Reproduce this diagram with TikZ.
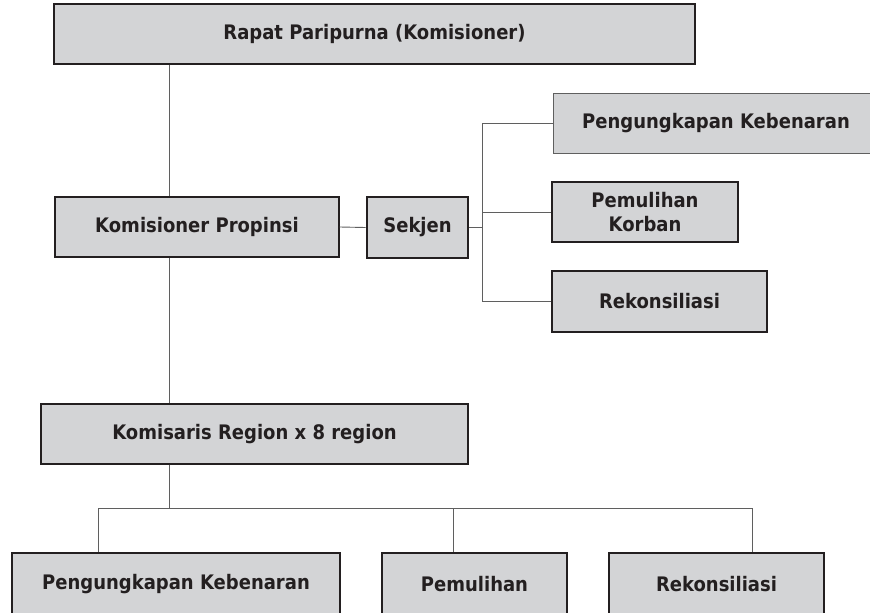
\documentclass[tikz,border=0pt]{standalone}
\usepackage{fontspec}
\setmainfont{DejaVu Sans}[FakeStretch=0.9]
\usepackage{xcolor}
\usepackage{tikz}
\usetikzlibrary{positioning, calc}
\definecolor{OrgFill}{RGB}{211,212,214}
\definecolor{OrgLine}{RGB}{35,31,32}
\definecolor{OrgGray}{RGB}{95,95,95}

\begin{document}
\begin{tikzpicture}[x=1pt, y=-1pt,
          unit/.style={rectangle, draw=OrgLine, fill=OrgFill, line width=1.3pt,
                       minimum height=60pt, inner sep=2pt, align=center,
                       font=\bfseries\fontsize{20}{24}\selectfont,
                       text=OrgLine},
          heavy/.style={unit, line width=2.6pt},
          light/.style={unit, draw=OrgGray, line width=1pt},
          link/.style={draw=OrgGray, line width=0.9pt}
        ]
        \path[fill=white, use as bounding box] (0,0) rectangle (870,613);

        % Top level
        \node[unit, line width=2pt, minimum width=641pt] (rapat) at (374.5,34)
              {Rapat Paripurna (Komisioner)};
        \node[unit, minimum width=284pt] (kprop) at (197,227)
              {Komisioner Propinsi};
        \node[heavy, minimum width=101pt, minimum height=61pt] (sekjen) at (417.5,227.5)
              {Sekjen};

        % Sekjen units
        \node[light, minimum width=326pt] (pkTop) at (716,123)
              {Pengungkapan Kebenaran};
        \node[unit, line width=1.8pt, minimum width=186pt] (pemKorban) at (645,212)
              {Pemulihan\\Korban};
        \node[heavy, minimum width=215pt, minimum height=61pt] (rekTop) at (659.5,301.5)
              {Rekonsiliasi};

        % Regions
        \node[unit, minimum width=427pt] (komisaris) at (254.5,434)
              {Komisaris Region x 8 region};
        \foreach \n/\x/\w/\t in {pkBot/176/328/Pengungkapan Kebenaran,
                                 pemBot/474.5/185/Pemulihan,
                                 rekBot/716.5/215/Rekonsiliasi} {
          \node[heavy, minimum width=\w pt, minimum height=62pt] (\n) at (\x,584) {\t};
        }

        % Connectors
        \coordinate (spine) at (169,0);
        \coordinate (trunk) at (482,0);
        \path (98,508) coordinate (busL) (453,508) coordinate (busM)
              (752,508) coordinate (busR);

        \draw[link] (rapat.south -| spine)--(kprop.north -| spine);
        \draw[link] (kprop.south -| spine)--(komisaris.north -| spine);
        \draw[link] (kprop.east)--(sekjen.west);
        \draw[link] (sekjen.east)--(trunk |- sekjen.east);
        \draw[link] (pkTop.west) -| (trunk |- rekTop.west)--(rekTop.west);
        \draw[link] (trunk |- pemKorban.west)--(pemKorban.west);

        \draw[link] (komisaris.south -| spine)--(spine |- busL);
        \draw[link] (pkBot.north -| busL)--(busL)--(busR)--(rekBot.north -| busR);
        \draw[link] (busM)--(pemBot.north -| busM);
      \end{tikzpicture}
\end{document}
